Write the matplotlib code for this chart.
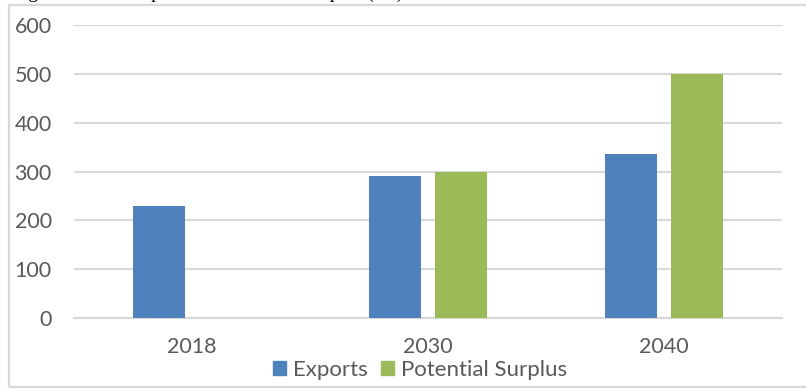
import matplotlib
matplotlib.use('Agg')
import matplotlib.pyplot as plt
from matplotlib.patches import Patch, Rectangle
import numpy as np

years = ['2018', '2030', '2040']
exports = [230, 290, 335]
surplus = [np.nan, 300, 500]

blue = '#4f81bd'
green = '#9bbb59'
grey_txt = '#595959'
grid_col = '#d9d9d9'

plt.rcParams['font.family'] = ['Lato', 'DejaVu Sans']

fig = plt.figure(figsize=(8.06, 3.88), dpi=100)

# caption sits above the chart box, mostly outside the page
fig.text(12/806, 1 + 2/388, 'Figure 6: Coal Exports and Potential Surplus (Mt)',
         family='Liberation Serif', fontsize=14, color='black', va='baseline')

# light frame round the chart
fig.patches.append(Rectangle((9/806, 1.5/388), 1 - 9/806 + 0.01, 1 - 6.5/388,
                             transform=fig.transFigure, fill=False,
                             edgecolor=grid_col, lw=1.6))

ax = fig.add_axes([74/806, 1 - 318/388, (782 - 74)/806, (318 - 25)/388])

x = np.arange(len(years))
w = 0.22
off = 0.14
ax.bar(x - off, exports, w, color=blue, zorder=3)
ax.bar(x + off, surplus, w, color=green, zorder=3)

ax.set_xlim(-0.5, 2.5)
ax.set_ylim(0, 600)
ax.set_yticks(range(0, 601, 100))
ax.set_xticks(x)
ax.set_xticklabels(years)
ax.yaxis.grid(True, color=grid_col, lw=1.5, zorder=0)
ax.set_axisbelow(True)
for s in ['top', 'right', 'left']:
    ax.spines[s].set_visible(False)
ax.spines['bottom'].set_color(grid_col)
ax.spines['bottom'].set_linewidth(1.5)
ax.tick_params(axis='both', length=0, labelsize=15.5, colors=grey_txt)
ax.tick_params(axis='y', pad=16)
ax.tick_params(axis='x', pad=14)

handles = [Patch(color=blue, label='Exports'),
           Patch(color=green, label='Potential Surplus')]
fig.legend(handles=handles, loc='center', bbox_to_anchor=(420/806, 1 - 370/388),
           ncol=2, frameon=False, fontsize=16, labelcolor=grey_txt,
           handlelength=0.6, handleheight=0.6, handletextpad=0.3,
           columnspacing=0.6, borderpad=0)

fig.savefig('out.png', dpi=100)
